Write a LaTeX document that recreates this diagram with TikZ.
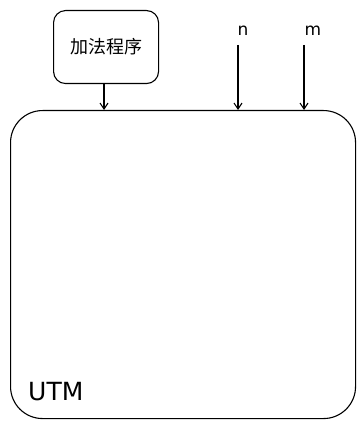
\documentclass[tikz,border=0pt]{standalone}
\usepackage{fontspec}
\setsansfont{DejaVu Sans}
\newfontfamily\cjk{Noto Sans CJK SC}
\usetikzlibrary{arrows.meta}
\begin{document}
\begin{tikzpicture}[x=1pt,y=-1pt,
  line/.style={draw=black, line width=1.1pt},
  arr/.style={line, -{Straight Barb[length=6pt,width=8pt]}},
  lbl/.style={font=\sffamily\fontsize{17}{17}\selectfont, inner sep=0pt}]
\useasboundingbox (0,0) rectangle (357,425);
\node[line, rounded corners=12pt, minimum width=105pt, minimum height=73pt, font=\cjk\fontsize{18}{18}\selectfont, anchor=north west] (prog) at (53,10) {加法程序};
\node[line, rounded corners=32pt, minimum width=345pt, minimum height=308pt, anchor=north west] (utm) at (10,110) {};
\node[font=\sffamily\fontsize{25}{25}\selectfont, inner sep=0pt, anchor=south west] (lab) at (28,401) {UTM};
\node[lbl] (n) at (243,31) {n};
\node[lbl] (m) at (313,31) {m};
\coordinate (ns) at (238,45);
\coordinate (ms) at (304,45);
\coordinate (na) at (238,110);
\coordinate (ma) at (304,110);
\coordinate (pa) at (104,110);
\draw[arr] (prog.south -| pa) -- (pa);
\draw[arr] (ns) -- (na);
\draw[arr] (ms) -- (ma);
\end{tikzpicture}
\end{document}
